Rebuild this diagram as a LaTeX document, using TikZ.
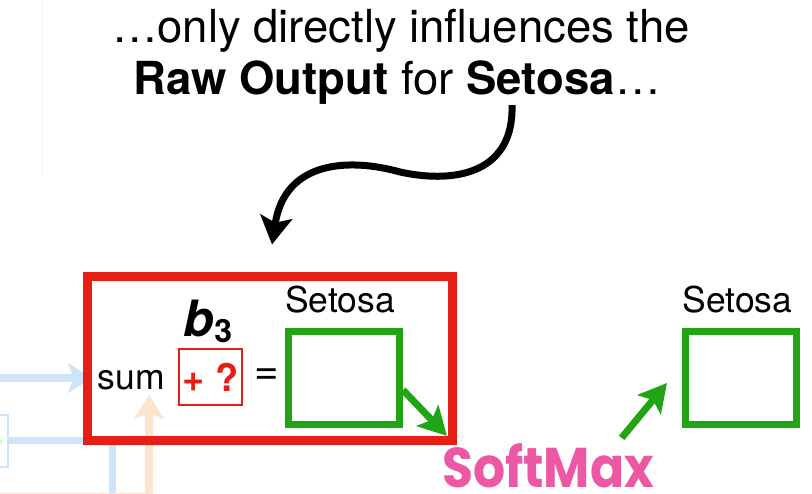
\documentclass[tikz,border=0pt]{standalone}
\usepackage{fontspec}
\setmainfont{TeX Gyre Heros}
\newfontfamily\softfont{Poppins}
\usetikzlibrary{arrows.meta, positioning, calc, backgrounds}
\definecolor{rawred}{RGB}{230,30,20}
\definecolor{rawgreen}{RGB}{34,165,20}
\definecolor{softpink}{RGB}{236,88,164}
\definecolor{fadeblue}{RGB}{206,228,250}
\definecolor{fadeorange}{RGB}{253,228,204}

\begin{document}
\begin{tikzpicture}[
    x=1pt, y=1pt,
    title/.style={font=\fontsize{45.5}{52}\selectfont, inner sep=0pt, anchor=base},
    label/.style={font=\fontsize{35.5}{40}\selectfont, inner sep=0pt, anchor=base},
    rawbox/.style={draw=rawred, line width=9pt, minimum width=365pt, minimum height=164pt, inner sep=0pt},
    outbox/.style={draw=rawgreen, line width=7pt, minimum width=111pt, minimum height=93pt, inner sep=0pt},
    biasbox/.style={draw=rawred, line width=1.5pt, minimum width=63pt, minimum height=56pt, inner sep=0pt, text=rawred, font=\fontsize{38}{40}\selectfont\bfseries},
    garrow/.style={rawgreen, line width=7pt, -{Stealth[length=28pt, width=30pt, inset=6pt]}},
    curly/.style={line width=7pt, -{Stealth[length=28pt, width=32pt, inset=6pt]}},
    fadearrow/.style={line width=8pt, -{Stealth[length=24pt, width=30pt, inset=6pt]}},
]
\useasboundingbox (0,0) rectangle (812,494);
\clip (0,0) rectangle (812,494);

% Faded inputs on the left
\draw[gray!8, line width=1pt] (42,494) -- (42,317);
\node[draw=fadeblue, line width=2pt, minimum width=30pt, minimum height=52pt] (leftbox) at (-7,53) {};
\draw[green!25, line width=2pt] (-2,57) -- (2,51);
\draw[fadeblue, line width=7pt] (leftbox.east) -| (112,-10);
\draw[fadearrow, fadeorange] (-5,-3) -| (149,99);

% Title
\node[title] (line1) at (401,451) {…only directly influences the};
\node[title] (line2) at (397,399) {\textbf{Raw Output} for \textbf{Setosa}…};

% Raw output box
\node[rawbox] (raw) at (269.5,135) {};
\node[label] (sum) at (131.5,104) {sum};
\begin{scope}[on background layer]
\draw[fadearrow, fadeblue] (-5,116) -- ([xshift=-6pt]sum.west |- 0,116);
\end{scope}
\node[biasbox] (bias) at (210.5,117) {+ ?};
\node[label, anchor=center, font=\fontsize{42}{42}\selectfont] (eq) at (267,117) {=};
\node[label] (bname) at (208,157) {{\fontsize{50}{50}\selectfont\bfseries\itshape b}\raisebox{-6pt}{\fontsize{32}{32}\selectfont\bfseries 3}};
\node[outbox] (rawout) at (344,116) {};
\node[label] (rawlab) at (340,181) {Setosa};

% Probability box
\node[outbox] (probout) at (741,116) {};
\node[label] (problab) at (737.5,181) {Setosa};

% SoftMax
\node[font=\softfont\bfseries\fontsize{56}{56}\selectfont, text=softpink, anchor=base, inner sep=0pt] (softmax) at (548,6) {\scalebox{0.9}[1]{SoftMax}};

% Arrows
\draw[curly] ([xshift=115pt]line2.south) .. controls (514,324) and (460,309) .. (400,322)
    .. controls (350,336) and (285,334) .. ([shift={(2.5,28)}]raw.north);
\draw[garrow] ([yshift=-12pt]rawout.east) -- ([shift={(5,8)}]softmax.north west);
\draw[garrow] ([shift={(-32.5,6)}]softmax.north east) -- ([shift={(-15,-5)}]probout.west);

\end{tikzpicture}
\end{document}
